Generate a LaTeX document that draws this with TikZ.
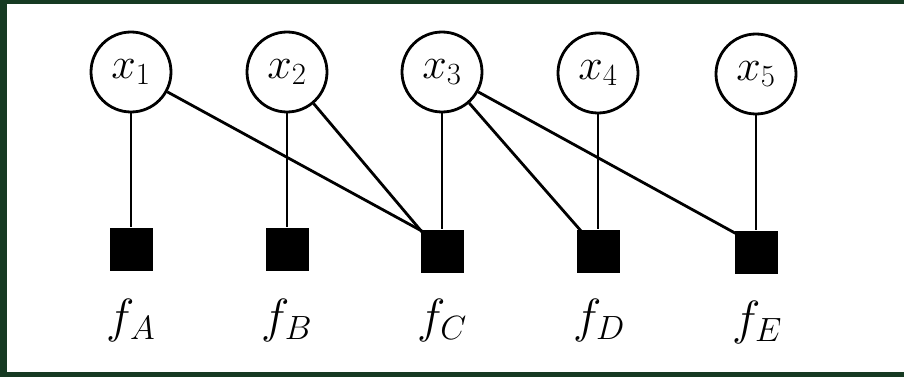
\documentclass[tikz,border=0pt]{standalone}
\usepackage{fix-cm}
\usepackage{tikz}
\begin{document}
\begin{tikzpicture}[x=1pt,y=-1pt,
  varnode/.style={draw=black,line width=2.8pt,circle,minimum size=80pt,inner sep=0pt,font=\fontsize{44}{50}\selectfont},
  facnode/.style={fill=black,minimum size=43pt,inner sep=0pt},
  flabel/.style={font=\fontsize{48}{54}\selectfont,inner sep=0pt},
  edge/.style={line width=2.8pt,black}]
\definecolor{bgdark}{RGB}{22,58,34}
\fill[bgdark] (0,0) rectangle (904,377);
\fill[white] (7,4) rectangle (904,372);
\useasboundingbox (0,0) rectangle (904,377);
% variable nodes
\node[varnode] (x1) at (131,72) {$x_1$};
\node[varnode] (x2) at (287,72) {$x_2$};
\node[varnode] (x3) at (442,72) {$x_3$};
\node[varnode] (x4) at (598,73) {$x_4$};
\node[varnode] (x5) at (756,74) {$x_5$};
% factor nodes
\node[facnode] (fA) at (131,249) {};
\node[facnode] (fB) at (287,249) {};
\node[facnode] (fC) at (442,251) {};
\node[facnode] (fD) at (598,251) {};
\node[facnode] (fE) at (756,252) {};
% labels
\node[flabel] (lA) at (131,320) {$f_A$};
\node[flabel] (lB) at (287,320) {$f_B$};
\node[flabel] (lC) at (442,320) {$f_C$};
\node[flabel] (lD) at (599,320) {$f_D$};
\node[flabel] (lE) at (757,322) {$f_E$};
% edges
\draw[edge] (x1) -- (fA);
\draw[edge] (x2) -- (fB);
\draw[edge] (x3) -- (fC);
\draw[edge] (x4) -- (fD);
\draw[edge] (x5) -- (fE);
\draw[edge] (x1) -- ([xshift=2pt,yshift=-2pt]fC.north west);
\draw[edge] (x2) -- ([xshift=2pt,yshift=-3pt]fC.north west);
\draw[edge] (x3) -- ([xshift=5pt,yshift=-2pt]fD.north west);
\draw[edge] (x3) -- ([xshift=3pt,yshift=-4pt]fE.north west);
\end{tikzpicture}
\end{document}
